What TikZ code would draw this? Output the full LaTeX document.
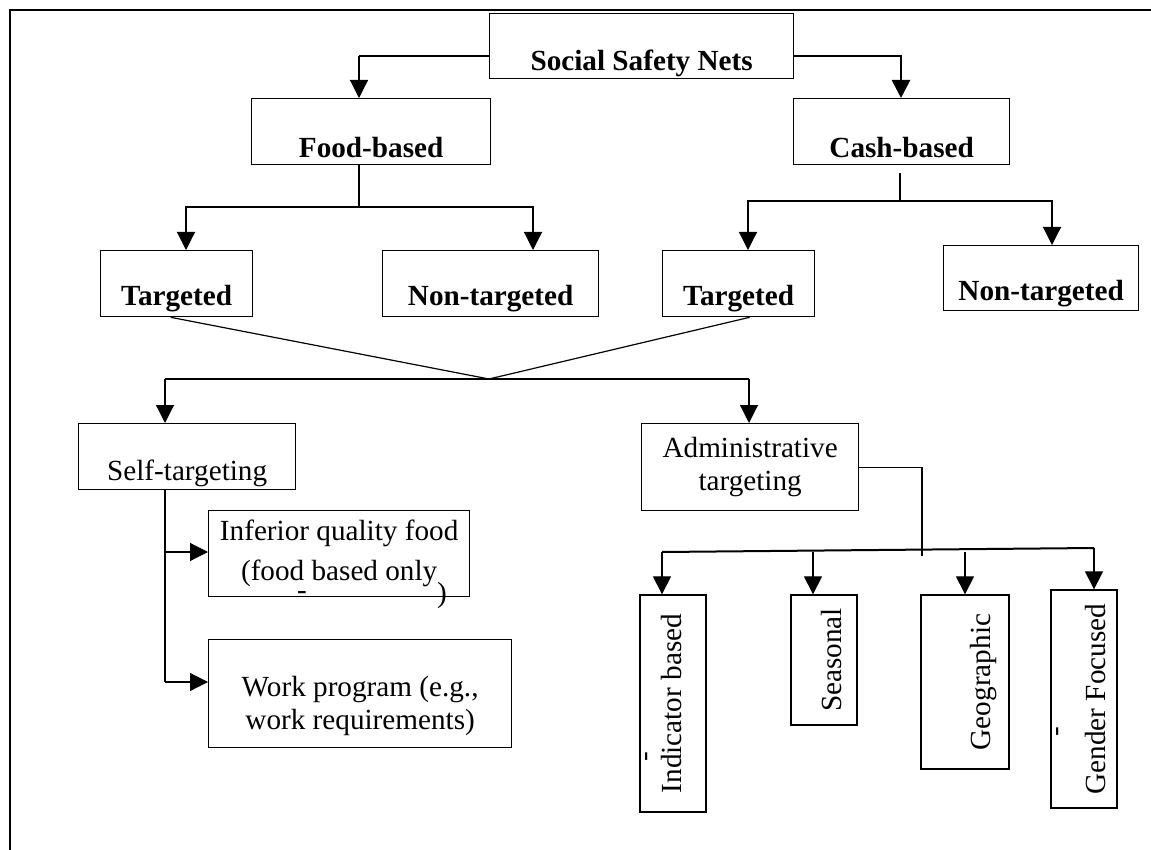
\documentclass[tikz,border=0pt]{standalone}
\usepackage{fontspec}
\setmainfont{Liberation Serif}
\usetikzlibrary{arrows.meta}

\begin{document}
\begin{tikzpicture}[x=0.5pt, y=-0.5pt,
    font=\fontsize{14.6}{16.5}\selectfont,
    box/.style={draw, line width=0.65pt, inner sep=0pt, align=center},
    hd/.style={box, font=\fontsize{14.6}{16.5}\selectfont\bfseries},
    link/.style={line width=0.6pt},
    heavy/.style={line width=1.4pt},
    arr/.style={link, -{Triangle[length=9pt,width=9pt]}},
    stray/.style={inner sep=0pt}]
    \useasboundingbox (0,0) rectangle (1151,850);
    \draw[line width=0.9pt] (1151,10) -- (10,10) -- (10,850);

    % first levels
    \node (root) [hd, anchor=north west, minimum width=152pt, text height=28.5pt, text depth=4pt] at (489,13) {Social Safety Nets};
    \node (food) [hd, anchor=north west, minimum width=119.5pt, text height=29.5pt, text depth=3.5pt] at (251,98) {Food-based};
    \node (cash) [hd, anchor=north west, minimum width=108pt, text height=29.5pt, text depth=3.5pt] at (793,98) {Cash-based};
    \node (foodtgt) [hd, anchor=north west, minimum width=76pt, text height=27.5pt, text depth=5.5pt] at (100,250) {Targeted};
    \node (foodnon) [hd, anchor=north west, minimum width=108pt, text height=27.5pt, text depth=5.5pt] at (382,250) {Non-targeted};
    \node (cashtgt) [hd, anchor=north west, minimum width=76pt, text height=27.5pt, text depth=5.5pt] at (662,250) {Targeted};
    \node (cashnon) [hd, anchor=north west, minimum width=97.5pt, text height=27.5pt, text depth=5pt] at (943,245) {Non-targeted};

    % targeting methods
    \node (self) [box, anchor=north west, minimum width=108.5pt, text height=28.5pt, text depth=4.5pt] at (78,423) {Self-targeting};
    \node (admin) [box, anchor=north west, minimum width=108.5pt, minimum height=43.5pt] at (641,423) {Administrative\\targeting};
    \node (inf) [box, anchor=north west, minimum width=130.5pt, minimum height=43pt] at (208,510) {Inferior quality food\\[3.5pt](food based only};
    \node (paren) [stray] at (442,595) {)};
    \node (dashF) [stray] at (302,596) {-};
    \node (work) [box, anchor=north west, minimum width=151.5pt, minimum height=54pt] at (208,639) {\rule{0pt}{22pt}Work program (e.g.,\\work requirements)};

    \node (ind) [box, rotate=90, minimum width=108.5pt, text height=20.5pt, text depth=12.5pt] at (673,703.5) {Indicator based};
    \node (seas) [box, rotate=90, minimum width=65pt, text height=25pt, text depth=8pt] at (824,660) {Seasonal};
    \node (geo) [box, rotate=90, minimum width=87pt, text height=34.5pt, text depth=9.5pt] at (965,682) {Geographic};
    \node (gen) [box, rotate=90, minimum width=109pt, text height=27pt, text depth=6pt] at (1084,699) {Gender Focused};
    \node (tickI) [stray, rotate=90] at (650,757) {-};
    \node (tickG) [stray, rotate=90] at (1061,732) {-};

    % connectors from the top
    \coordinate (fa) at (359,56);
    \coordinate (ca) at (901,56);
    \draw[heavy] (root.west |- fa) -- (fa);
    \draw[arr] (fa) -- (fa |- food.north);
    \draw[heavy, -{Triangle[length=9pt,width=9pt]}] (root.east |- ca) -- (ca) -- (ca |- cash.north);

    \coordinate (fb) at (359,207);
    \draw[link] (fa |- food.south) -- (fb);
    \draw[arr] (fb) -| (foodtgt.north -| 186,0);
    \draw[arr] (fb) -| (foodnon.north -| 533,0);

    \coordinate (cb) at (900,201);
    \draw[link] ([yshift=-4pt]cash.south -| cb) -- (cb);
    \draw[arr] (cb) -| (cashtgt.north -| 748,0);
    \draw[arr] (cb) -| (cashnon.north -| 1052,0);

    % both targeted boxes meet
    \coordinate (mid) at (489,379);
    \draw[link] ([xshift=-3pt]foodtgt.south) -- (mid) -- ([xshift=5.5pt]cashtgt.south);
    \draw[link] (165,379) -- (749,379);
    \draw[arr] (165,379) -- (self.north -| 165,0);
    \draw[arr] (749,379) -- (admin.north -| 749,0);

    \draw[link] (self.south -| 165,0) -- (165,682);
    \draw[arr] (165,552) -- (inf.west |- 0,552);
    \draw[arr] (165,682) -- (work.west |- 0,682);

    \draw[link] (admin.east) -| (922,556);
    \draw[line width=1pt] (662,552) -- (1094,548);
    \foreach \x/\y/\n in {662/552/ind, 813/552/seas, 965/552/geo, 1094/548/gen} {
        \draw[arr] (\x,\y) -- (\n.east -| \x,0);
    }
\end{tikzpicture}
\end{document}
